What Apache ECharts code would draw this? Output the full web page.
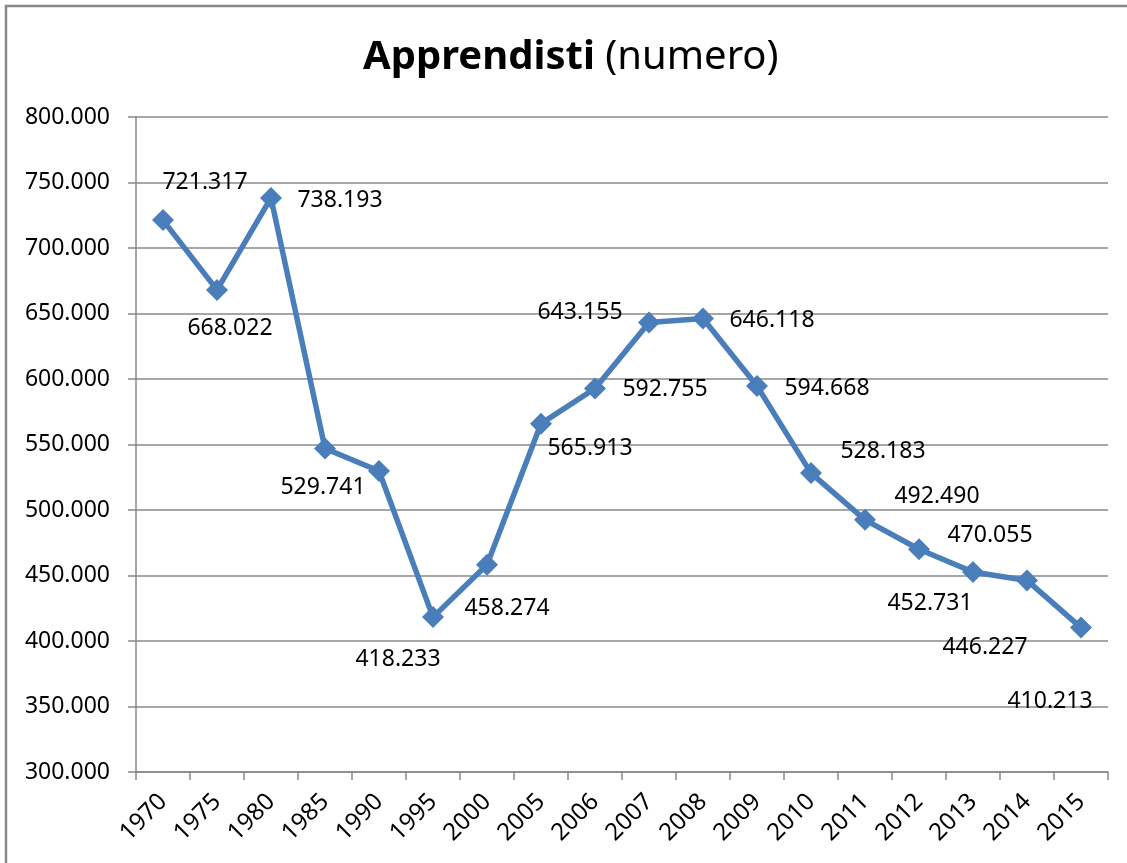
<!DOCTYPE html>
<html>
<head>
<meta charset="utf-8">
<script src="https://cdn.jsdelivr.net/npm/echarts@6/dist/echarts.min.js"></script>
<style>
  html, body { margin: 0; padding: 0; background: #fff; }
  #chart { width: 1127px; height: 863px; }
</style>
</head>
<body>
<div id="chart"></div>
<script>
const years = ['1970', '1975', '1980', '1985', '1990', '1995', '2000', '2005', '2006',
  '2007', '2008', '2009', '2010', '2011', '2012', '2013', '2014', '2015']
const apprendisti = [721317, 668022, 738193, 547000, 529741, 418233, 458274, 565913, 592755,
  643155, 646118, 594668, 528183, 492490, 470055, 452731, 446227, 410213]
// which value each point shows as its label (the 1985 point has none)
const labelValues = [721317, 668022, 738193, null, 529741, 418233, 458274, 565913, 592755,
  643155, 646118, 594668, 528183, 492490, 470055, 452731, 446227, 410213]

// label offsets from the marker, in px
const labelOffsets = [[42, -38], [13, 39], [69, 2], null, [-56, 16], [-35, 42], [20, 44],
  [49, 25], [70, 1], [-69, -10], [69, 2], [70, 2], [72, -22], [72, -23], [71, -14],
  [-43, 32], [-42, 67], [-31, 74]]

const fmt = (v) => {
  const s = String(Math.round(v))
  return s.replace(/\B(?=(\d{3})+(?!\d))/g, '.')
}

const font = 'Noto Sans'
const gray = '#888888'

const data = apprendisti.map((v, i) => {
  const off = labelOffsets[i]
  return {
    value: v,
    label: off
      ? {
          show: true,
          position: 'inside',
          offset: off,
          formatter: fmt(labelValues[i])
        }
      : { show: false }
  }
})

const option = {
  animation: false,
  backgroundColor: '#fff',
  title: {
    text: '{b|Apprendisti}{n| (numero)}',
    left: 358,
    top: 33,
    textStyle: {
      rich: {
        b: { fontFamily: font, fontSize: 40, fontWeight: 'bold', color: '#000' },
        n: { fontFamily: font, fontSize: 40, fontWeight: 'normal', color: '#000' }
      }
    }
  },
  graphic: [
    {
      type: 'rect',
      shape: { x: 6, y: 6, width: 1300, height: 1000 },
      style: { fill: 'none', stroke: gray, lineWidth: 2.5 },
      silent: true
    }
  ],
  grid: { left: 136, right: 19, top: 117, bottom: 91 },
  xAxis: {
    type: 'category',
    data: years,
    boundaryGap: true,
    axisLine: { lineStyle: { color: gray, width: 1.5 } },
    axisTick: { show: true, length: 8, lineStyle: { color: gray, width: 1.5 } },
    axisLabel: {
      rotate: 45,
      interval: 0,
      margin: 26,
      fontFamily: font,
      fontSize: 24,
      color: '#000'
    }
  },
  yAxis: {
    type: 'value',
    min: 300000,
    max: 800000,
    interval: 50000,
    axisLine: { show: true, lineStyle: { color: gray, width: 1.5 } },
    axisTick: { show: true, length: 8, lineStyle: { color: gray, width: 1.5 } },
    splitLine: { lineStyle: { color: gray, width: 1.5 } },
    axisLabel: {
      margin: 26,
      fontFamily: font,
      fontSize: 23,
      color: '#000',
      formatter: fmt
    }
  },
  series: [
    {
      name: 'Apprendisti',
      type: 'line',
      data: data,
      symbol: 'diamond',
      symbolSize: 22,
      itemStyle: { color: '#4A7EBB' },
      lineStyle: { color: '#4A7EBB', width: 5.5 },
      label: {
        fontFamily: font,
        fontSize: 23,
        color: '#000',
        align: 'center',
        verticalAlign: 'middle'
      }
    }
  ]
}

const myChart = echarts.init(document.getElementById('chart'))
option && myChart.setOption(option)
</script>
</body>
</html>
